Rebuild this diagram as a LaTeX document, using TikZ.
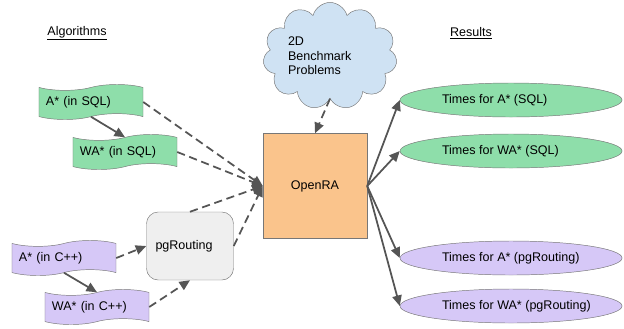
\documentclass[tikz,border=0pt]{standalone}
\usepackage{fontspec}
\setmainfont{Liberation Sans}
\usetikzlibrary{shapes.symbols,shapes.geometric,arrows.meta}
\definecolor{sqlgreen}{RGB}{142,222,170}
\definecolor{cpppurple}{RGB}{214,200,247}
\definecolor{raorange}{RGB}{250,196,140}
\definecolor{cloudblue}{RGB}{207,226,243}
\definecolor{pggray}{RGB}{239,239,239}
\definecolor{edgegray}{RGB}{85,85,85}

\begin{document}
\begin{tikzpicture}[x=0.03cm,y=-0.03cm,font=\fontsize{10.7}{12.5}\selectfont]
  \tikzstyle{algo}=[tape, draw=edgegray!80, tape bend height=5pt, minimum width=3.12cm,
minimum height=1.05cm, text width=2.7cm, align=left, inner sep=0pt]
  \tikzstyle{result}=[ellipse, draw=edgegray!80, minimum width=6.66cm, minimum height=1.02cm,
inner sep=0pt]
  \tikzstyle{solid arrow}=[draw=edgegray, line width=1.5pt, -{Triangle[length=9pt,width=8pt]}]
  \tikzstyle{dashed arrow}=[solid arrow, dash pattern=on 7pt off 4pt]
  \useasboundingbox (0,0) rectangle (624,328);

  \node (H_algo) at (77,33) {\underline{Algorithms}};
  \node (H_res) at (471,33) {\underline{Results}};

  \node[cloud, cloud puffs=11, aspect=1.4, draw=edgegray!80, fill=cloudblue,
    minimum width=4.02cm, minimum height=3.05cm, text width=2.52cm, align=left,
    inner sep=0pt] (C) at (330,56) {2D\\Benchmark\\Problems};
  \node[rectangle, draw=edgegray!80, fill=raorange, minimum width=3.12cm,
    minimum height=3.15cm] (RA) at (315,186) {OpenRA};
  \node[rectangle, rounded corners=10pt, draw=edgegray!80, fill=pggray,
    minimum width=2.61cm, minimum height=2.04cm, text width=2.07cm, align=left,
    inner sep=0pt] (PG) at (190,246) {pgRouting};

  \node[algo, fill=sqlgreen] (A_sql) at (91,102) {A* (in SQL)};
  \node[algo, fill=sqlgreen] (WA_sql) at (125,152) {WA* (in SQL)};
  \node[algo, fill=cpppurple] (A_cpp) at (64,258) {A* (in C++)};
  \node[algo, fill=cpppurple] (WA_cpp) at (97,307) {WA* (in C++)};

  \node[result, fill=sqlgreen] (R_1) at (511,100) {\makebox[4.14cm][l]{Times for A* (SQL)}};
  \node[result, fill=sqlgreen] (R_2) at (511,151) {\makebox[4.14cm][l]{Times for WA* (SQL)}};
  \node[result, fill=cpppurple] (R_3) at (511,258) {\makebox[4.14cm][l]{Times for A* (pgRouting)}};
  \node[result, fill=cpppurple] (R_4) at (511,306) {\makebox[4.14cm][l]{Times for WA* (pgRouting)}};

  \draw[solid arrow] (A_sql.south) -- (WA_sql.north);
  \draw[solid arrow] (A_cpp.south) -- (WA_cpp.north);
  \draw[dashed arrow] (A_sql.east) -- (RA.west);
  \draw[dashed arrow] (WA_sql.east) -- (RA.west);
  \draw[dashed arrow] (PG.north) -- (RA.west);
  \draw[dashed arrow] (PG.east) -- (RA.west);
  \draw[dashed arrow] (A_cpp.east) -- (PG.west);
  \draw[dashed arrow] (WA_cpp.east) -- (PG.south);
  \draw[dashed arrow] (C.south) -- (RA.north);

  \draw[solid arrow] (RA.east) -- (R_1.west);
  \draw[solid arrow] (RA.east) -- (R_2.west);
  \draw[solid arrow] (RA.east) -- (R_3.west);
  \draw[solid arrow] (RA.east) -- (R_4.west);
\end{tikzpicture}
\end{document}
